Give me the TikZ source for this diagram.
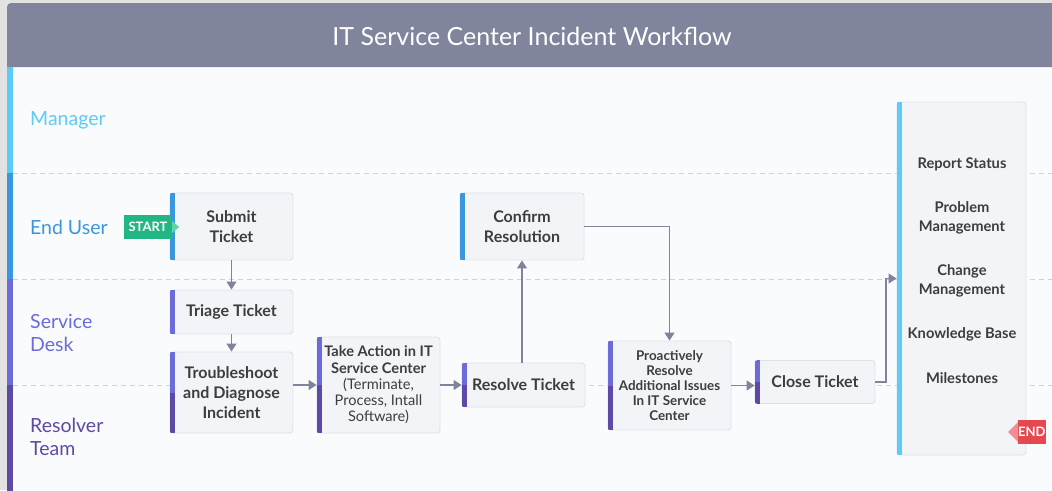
\documentclass[tikz,border=0pt]{standalone}
\usepackage{fontspec}
\setmainfont{Lato}
\usetikzlibrary{arrows.meta,calc}

\definecolor{pagebg}{HTML}{E2E2E2}
\definecolor{framecol}{HTML}{D6D6D6}
\definecolor{headbg}{HTML}{80849C}
\definecolor{lanebg}{HTML}{FAFBFD}
\definecolor{mgrcol}{HTML}{5BCBF7}
\definecolor{usercol}{HTML}{3A97DE}
\definecolor{deskcol}{HTML}{6B6BD9}
\definecolor{rescol}{HTML}{5E4AA6}
\definecolor{boxfill}{HTML}{F2F4F8}
\definecolor{boxline}{HTML}{DDE1EA}
\definecolor{arrcol}{HTML}{7F849C}
\definecolor{txtcol}{HTML}{3D3D3D}
\definecolor{dashcol}{HTML}{CDD2DC}
\definecolor{startcol}{HTML}{22B683}
\definecolor{starttip}{HTML}{5CD6A6}
\definecolor{endcol}{HTML}{E5484F}
\definecolor{endtip}{HTML}{F38C93}

\tikzset{
  box/.style={draw=boxline, fill=boxfill, rounded corners=3pt, line width=0.9pt,
    align=center, text=txtcol, inner sep=0pt,
    font=\bfseries\fontsize{16}{20}\selectfont},
  lanelabel/.style={anchor=west, align=left, inner sep=0pt,
    font=\fontsize{19.5}{23}\selectfont},
  item/.style={align=center, text=txtcol, inner sep=0pt,
    font=\bfseries\fontsize{14.7}{19}\selectfont},
  arr/.style={draw=arrcol, line width=1.3pt,
    -{Triangle[length=8pt,width=10pt]}},
  lanesep/.style={draw=dashcol, line width=1pt, dash pattern=on 5pt off 4pt},
  tagtext/.style={text=white, inner sep=0pt,
    font=\bfseries\fontsize{13}{13}\selectfont}
}

% left colour stripe of a box, one colour
\newcommand\onestripe[2]{%
  \begin{scope}
    \clip[rounded corners=3pt] (#1.south west) rectangle (#1.north east);
    \fill[#2] (#1.south west) rectangle ([xshift=5pt]#1.north west);
  \end{scope}}
% left colour stripe of a box, upper and lower halves
\newcommand\twostripe[3]{%
  \begin{scope}
    \clip[rounded corners=3pt] (#1.south west) rectangle (#1.north east);
    \fill[#2] (#1.west) rectangle ([xshift=5pt]#1.north west);
    \fill[#3] (#1.south west) rectangle ([xshift=5pt]#1.west);
  \end{scope}}

\begin{document}
\begin{tikzpicture}[x=1pt, y=-1pt]
  \clip (0,0) rectangle (1052,490);
  \fill[pagebg] (0,0) rectangle (1052,490);

  % frame, lanes and header
  \fill[lanebg, rounded corners=4pt] (7,3) rectangle (1070,500);
  \fill[headbg, rounded corners=4pt] (7,3) rectangle (1070,67);
  \fill[headbg] (7,30) rectangle (1070,67);
  \node[text=white, font=\fontsize{25}{25}\selectfont] (title) at (532,36)
    {IT Service Center Incident Workflow};

  \fill[mgrcol]  (7,67)  rectangle (13,173);
  \fill[usercol] (7,173) rectangle (13,279);
  \fill[deskcol] (7,279) rectangle (13,385);
  \fill[rescol]  (7,385) rectangle (13,500);

  \foreach \yy in {173,279,385} \draw[lanesep] (13,\yy) -- (1052,\yy);

  \node[lanelabel, text=mgrcol]  (lmgr)  at (30,120) {Manager};
  \node[lanelabel, text=usercol] (luser) at (30,227) {End User};
  \node[lanelabel, text=deskcol] (ldesk) at (30,332.5) {Service\\Desk};
  \node[lanelabel, text=rescol]  (lres)  at (30,436.5) {Resolver\\Team};

  % process boxes
  \node[box, minimum width=123pt, minimum height=67pt] (submit) at (231.5,226.5) {Submit\\Ticket};
  \node[box, minimum width=123pt, minimum height=44pt] (triage) at (231.5,312) {Triage Ticket};
  \node[box, minimum width=123pt, minimum height=81pt] (trouble) at (231.5,392.5) {Troubleshoot\\and Diagnose\\Incident};
  \node[box, minimum width=123pt, minimum height=96pt,
        font=\fontsize{14.6}{16.3}\selectfont] (take) at (378.5,385)
    {\textbf{Take Action in IT}\\\textbf{Service Center}\\(Terminate,\\Process, Intall\\Software)};
  \node[box, minimum width=123pt, minimum height=44pt] (resolve) at (523.5,385) {Resolve Ticket};
  \node[box, minimum width=124pt, minimum height=67pt] (confirm) at (522,226.5) {Confirm\\Resolution};
  \node[box, minimum width=123pt, minimum height=89pt,
        font=\bfseries\fontsize{13.4}{15}\selectfont] (proact) at (669.5,385.5)
    {Proactively\\Resolve\\Additional Issues\\In IT Service\\Center};
  \node[box, minimum width=120pt, minimum height=43pt] (close) at (815,382) {Close Ticket};
  \node[box, minimum width=129pt, minimum height=353pt] (report) at (961.5,278.5) {};

  \onestripe{submit}{usercol}
  \onestripe{triage}{deskcol}
  \twostripe{trouble}{deskcol}{rescol}
  \twostripe{take}{deskcol}{rescol}
  \twostripe{resolve}{deskcol}{rescol}
  \onestripe{confirm}{usercol}
  \twostripe{proact}{deskcol}{rescol}
  \twostripe{close}{deskcol}{rescol}
  \onestripe{report}{mgrcol}

  % contents of the reporting box
  \node[item] (status)  at (962,164) {Report Status};
  \node[item] (problem) at (962,217.5) {Problem\\Management};
  \node[item] (change)  at (962,280.5) {Change\\Management};
  \node[item] (kb)      at (962,334) {Knowledge Base};
  \node[item] (miles)   at (962,378) {Milestones};

  % start and end tags
  \node[fill=startcol, minimum width=48pt, minimum height=24pt, tagtext] (start) at (148,227) {START};
  \fill[starttip] ([yshift=6pt]start.east) -- ([xshift=7pt]start.east) -- ([yshift=-6pt]start.east) -- cycle;
  \node[fill=endcol, anchor=west, minimum height=24pt, inner xsep=8pt, tagtext] (finish) at (1018,432) {END};
  \fill[endtip] ([yshift=10pt]finish.west) -- ([xshift=-10pt]finish.west) -- ([yshift=-10pt]finish.west) -- cycle;

  % connectors
  \draw[arr] (submit) -- (triage);
  \draw[arr] (triage) -- (trouble);
  \draw[arr] (take.west -| trouble.east) -- (take.west);
  \draw[arr] (take.east) -- (resolve.west);
  \draw[arr] (resolve.north -| confirm.south) -- (confirm.south);
  \draw[arr] (confirm.east) -| (proact.north);
  \draw[arr] (proact.east) -- (proact.east -| close.west);
  \draw[arr] (close.east) -- ++(10.5,0) |- (report.west);
\end{tikzpicture}
\end{document}
